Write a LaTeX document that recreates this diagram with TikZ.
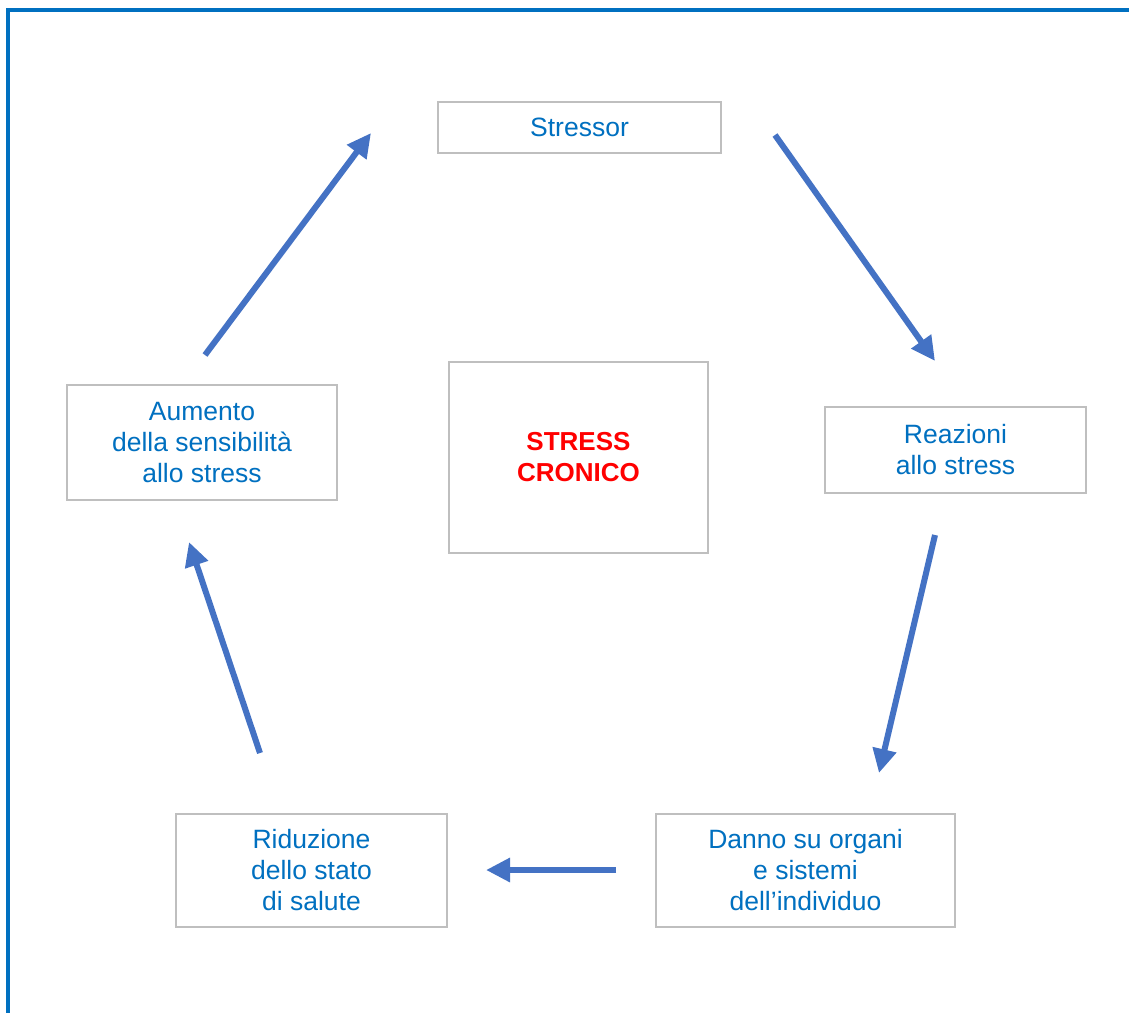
\documentclass[tikz,border=0pt]{standalone}
\usepackage{fontspec}
\setmainfont{Liberation Sans}
\usetikzlibrary{arrows.meta}
\definecolor{frameblue}{HTML}{0070C0}
\definecolor{txtblue}{HTML}{0070C0}
\definecolor{arrblue}{HTML}{4472C4}
\definecolor{boxgray}{HTML}{BFBFBF}
\begin{document}
\begin{tikzpicture}[x=1pt,y=-1pt,
  box/.style={draw=boxgray,line width=1.5pt,inner sep=0pt,align=center,
    text=txtblue,font=\fontsize{26.5}{31}\selectfont},
  flow/.style={draw=arrblue,line width=6pt,-{Triangle[length=24pt,width=23pt]}}]
\useasboundingbox (0,0) rectangle (1129,1012);
\fill[white] (0,0) rectangle (1129,1012);
% frame
\coordinate (fb) at (8,1014);
\coordinate (fc) at (8,10);
\coordinate (fr) at (1131,10);
\draw[frameblue,line width=4pt] (fb) -- (fc) -- (fr);
% boxes
\node[box,minimum width=283pt,minimum height=51pt] (stressor) at (579.5,127.5) {Stressor};
\node[box,minimum width=259pt,minimum height=191pt,text=red,font=\fontsize{26}{31}\selectfont\bfseries] (center) at (578.5,457.5) {STRESS\\CRONICO};
\node[box,minimum width=261pt,minimum height=86pt] (reaz) at (955.5,450) {Reazioni\\allo stress};
\node[box,minimum width=299pt,minimum height=113pt] (danno) at (805.5,870.5) {Danno su organi\\e sistemi\\dell’individuo};
\node[box,minimum width=271pt,minimum height=113pt] (rid) at (311.5,870.5) {Riduzione\\dello stato\\di salute};
\node[box,minimum width=270pt,minimum height=115pt] (aum) at (202,442.5) {Aumento\\della sensibilità\\allo stress};
% arrow end points
\coordinate (a1s) at (775,135);  \coordinate (a1e) at (935,361);
\coordinate (a2s) at (935,535);  \coordinate (a2e) at (879,773);
\coordinate (a3s) at (616,870);  \coordinate (a3e) at (486,870);
\coordinate (a4s) at (260,753);  \coordinate (a4e) at (189,542);
\coordinate (a5s) at (205,355);  \coordinate (a5e) at (371,133);
\draw[flow] (a1s) -- (a1e);
\draw[flow] (a2s) -- (a2e);
\draw[flow] (a3s) -- (a3e);
\draw[flow] (a4s) -- (a4e);
\draw[flow] (a5s) -- (a5e);
\end{tikzpicture}
\end{document}
